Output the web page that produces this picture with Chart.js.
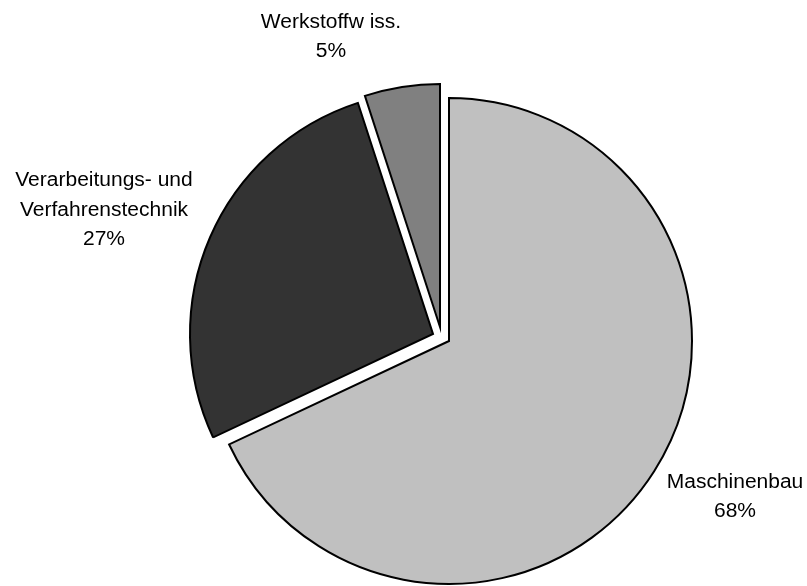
<!DOCTYPE html>
<html>
<head>
<meta charset="utf-8">
<script src="https://cdn.jsdelivr.net/npm/chart.js@4/dist/chart.umd.min.js"></script>
<style>
html, body { margin: 0; padding: 0; background: #fff; }
</style>
</head>
<body>
<canvas id="PieChart" width="807" height="586"></canvas>
<script>
// data
var fieldNames = [["Maschinenbau"], ["Verarbeitungs- und", "Verfahrenstechnik"], ["Werkstoffw iss."]];
var shares = [68, 27, 5];
var shareLabels = ["68%", "27%", "5%"];
var sliceColors = ["#c0c0c0", "#333333", "#808080"];

// pulls the exploded slices away from the centre (Excel style)
var explodePlugin = {
    id: 'explode',
    afterDatasetUpdate: function (chart, args, opts) {
        var arcs = args.meta.data;
        for (var i = 0; i < arcs.length; i++) {
            var s = opts.shift[i];
            if (s) {
                arcs[i].x += s[0];
                arcs[i].y += s[1];
            }
        }
    }
};

// text labels next to each slice
var labelPlugin = {
    id: 'sliceLabels',
    afterDatasetsDraw: function (chart, args, opts) {
        var ctx = chart.ctx;
        var area = chart.chartArea;
        var cx = (area.left + area.right) / 2;
        var cy = (area.top + area.bottom) / 2;
        ctx.save();
        ctx.font = opts.font;
        ctx.fillStyle = '#000';
        ctx.textAlign = 'center';
        ctx.textBaseline = 'middle';
        for (var i = 0; i < chart.data.labels.length; i++) {
            var lines = chart.data.labels[i].concat([shareLabels[i]]);
            var pos = opts.pos[i];
            var top = cy + pos[1] - (lines.length - 1) * opts.lineHeight / 2;
            for (var j = 0; j < lines.length; j++) {
                ctx.save();
                ctx.translate(cx + pos[0], top + j * opts.lineHeight);
                ctx.scale(opts.stretch, 1);
                ctx.fillText(lines[j], 0, 0);
                ctx.restore();
            }
        }
        ctx.restore();
    }
};

var ctx = document.getElementById('PieChart').getContext('2d');
var myChart = new Chart(ctx, {
    type: 'pie',
    data: {
        labels: fieldNames,
        datasets: [
            {
                data: shares,
                backgroundColor: sliceColors,
                borderColor: '#000000',
                borderWidth: 2,
                borderJoinStyle: 'miter'
            }
        ]
    },
    options: {
        responsive: false,
        animation: false,
        radius: 243,
        layout: { padding: { left: 91, right: 0, top: 96, bottom: 0 } },
        plugins: {
            legend: { display: false },
            tooltip: { enabled: false },
            explode: { shift: [null, [-16, -7], [-9, -14]] },
            sliceLabels: {
                font: '20px "Liberation Sans", Arial, sans-serif',
                lineHeight: 29.5,
                stretch: 1.05,
                pos: [[286, 156], [-345, -131], [-118, -304]]
            }
        }
    },
    plugins: [explodePlugin, labelPlugin]
});
</script>
</body>
</html>
